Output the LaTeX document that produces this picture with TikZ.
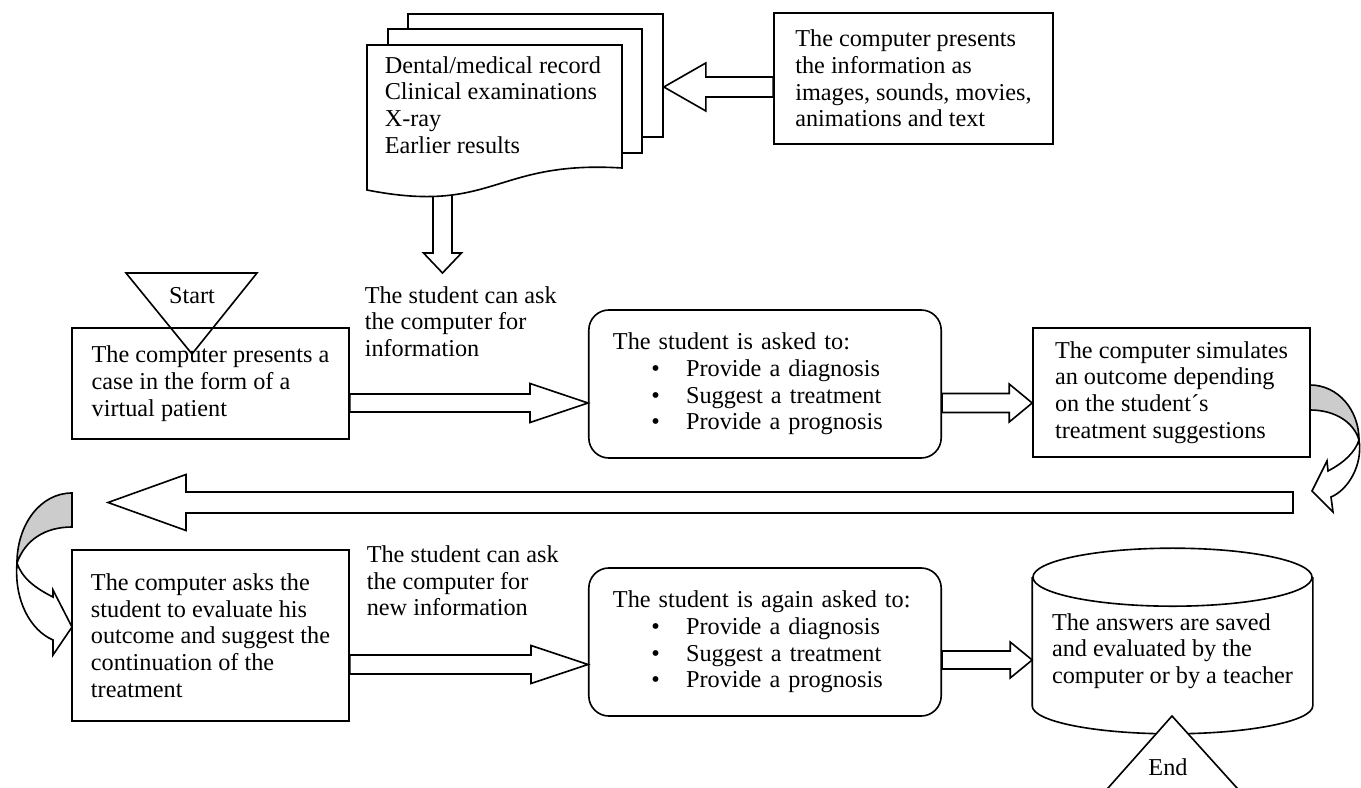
\documentclass[tikz,border=0pt]{standalone}
\usepackage{fontspec}
\setmainfont{Liberation Serif}
\usetikzlibrary{calc}

\newcommand{\upx}{0.0174cm}
\newcommand{\itm}[1]{\hspace*{19pt}\textbullet\hspace{13pt}#1}
% hollow block arrow: from, to, shaft half width, head half width, head length
\newcommand{\blockarrow}[5]{%
  \coordinate (hb) at ($(#2)!#5*\upx!(#1)$);
  \filldraw[fill=white] ($(#1)!#3*\upx!90:(#2)$) -- ($(hb)!#3*\upx!-90:(#1)$)
    -- ($(hb)!#4*\upx!-90:(#1)$) -- (#2) -- ($(hb)!#4*\upx!90:(#1)$)
    -- ($(hb)!#3*\upx!90:(#1)$) -- ($(#1)!#3*\upx!-90:(#2)$) -- cycle;}

\tikzset{
  txt/.style={align=left, inner sep=0pt, font=\fontsize{12}{13.2}\selectfont},
  box/.style={txt, draw, fill=white},
  roundbox/.style={box, rounded corners=0.35cm, text width=5.29cm, inner xsep=0.42cm,
    minimum height=2.575cm},
  sheet/.style={draw, fill=white, inner sep=0pt}
}

\begin{document}
\begin{tikzpicture}[x=\upx, y=-\upx, line width=0.8pt]
\useasboundingbox (0,0) rectangle (1361,788);

% records
\coordinate (docfoot) at (442.5,185);
\coordinate (asktip) at (442.5,273);
\blockarrow{docfoot}{asktip}{9.5}{19}{20}
\node[sheet, minimum width=255*\upx, minimum height=123*\upx] (sheet3) at (535.5,75.5) {};
\node[sheet, minimum width=254*\upx, minimum height=124*\upx] (sheet2) at (515,91) {};
\filldraw[fill=white] (367,45) -- (622,45) -- (622,168) .. controls (494,160) and (494,215) .. (367,190) -- cycle;
\node[txt, anchor=west] (records) at (384,105) {Dental/medical record\\Clinical examinations\\X-ray\\Earlier results};

\node[box, minimum width=279*\upx, minimum height=131*\upx] (info) at (913.5,78.5) {The computer presents\\the information as\\images, sounds, movies,\\animations and text};
\blockarrow{info.west |- 0,87}{sheet3.east |- 0,87}{10}{24}{42}

% first round
\node[txt, anchor=west] (ask1) at (364,321.5) {The student can ask\\the computer for\\information};
\node[box, minimum width=277*\upx, minimum height=111*\upx] (present) at (210.5,383.5) {The computer presents a\\case in the form of a\\virtual patient};
\node[txt] (start) at (192,296) {Start};
\draw (126,273) -- (257,273) -- (192,354) -- cycle;
\node[roundbox] (ask) at (765,384) {The student is asked to:\\\itm{Provide a diagnosis}\\\itm{Suggest a treatment}\\\itm{Provide a prognosis}};
\node[box, minimum width=277*\upx, minimum height=129*\upx] (simulate) at (1171.5,392.5) {The computer simulates\\an outcome depending\\on the student´s\\treatment suggestions};
\blockarrow{present.east |- 0,403}{ask.west |- 0,403}{9}{19.5}{58}
\blockarrow{ask.east |- 0,403}{simulate.west |- 0,403}{9.5}{19}{23}

% turn back
\filldraw[fill=black!20] (1310,385) .. controls (1338,385) and (1359,410) .. (1359,440) .. controls (1354,423) and (1336,410) .. (1310,410) -- cycle;
\filldraw[fill=white] (1359,440) .. controls (1363,465) and (1348,490) .. (1331,497) -- (1333,512) -- (1312,491) -- (1327,461) -- (1328,471) .. controls (1345,462) and (1355,452) .. (1359,440) -- cycle;
\coordinate (backR) at (1293,502.5);
\coordinate (backL) at (108,502.5);
\blockarrow{backR}{backL}{10.5}{28}{78}
\filldraw[fill=black!20] (72,493) .. controls (40,493) and (17,525) .. (17,563) .. controls (25,540) and (45,527) .. (72,527) -- cycle;
\filldraw[fill=white] (17,563) .. controls (14,600) and (30,630) .. (53,640) -- (53,655) -- (72,627) -- (53,590) -- (53,597) .. controls (35,588) and (22,578) .. (17,563) -- cycle;

% second round
\node[box, minimum width=277*\upx, minimum height=171*\upx] (evaluate) at (210.5,635.5) {The computer asks the\\student to evaluate his\\outcome and suggest the\\continuation of the\\treatment};
\node[txt, anchor=west] (ask2) at (366,581) {The student can ask\\the computer for\\new information};
\node[roundbox] (askagain) at (765,642) {The student is again asked to:\\\itm{Provide a diagnosis}\\\itm{Suggest a treatment}\\\itm{Provide a prognosis}};
\node[inner sep=0pt, minimum width=279*\upx, minimum height=127*\upx] (store) at (1172.5,641.5) {};
\filldraw[fill=white] (store.north west) -- (store.south west) .. controls +(0,15.5) and +(-77,0) .. ++(139.5,28) .. controls +(77,0) and +(0,15.5) .. (store.south east) -- (store.north east);
\filldraw[fill=white] (store.north) ellipse [x radius=2.4273cm, y radius=0.5046cm];
\node[txt] (storetext) at (1172.5,651) {The answers are saved\\and evaluated by the\\computer or by a teacher};
\blockarrow{evaluate.east |- 0,664.5}{askagain.west |- 0,664.5}{9.5}{19}{57}
\blockarrow{askagain.east |- 0,660}{store.west |- 0,660}{9}{18}{22}

\filldraw[fill=white] (1103.6,793) -- (1172,716) -- (1241.5,793);
\node[txt] (end) at (1168,767) {End};
\end{tikzpicture}
\end{document}
